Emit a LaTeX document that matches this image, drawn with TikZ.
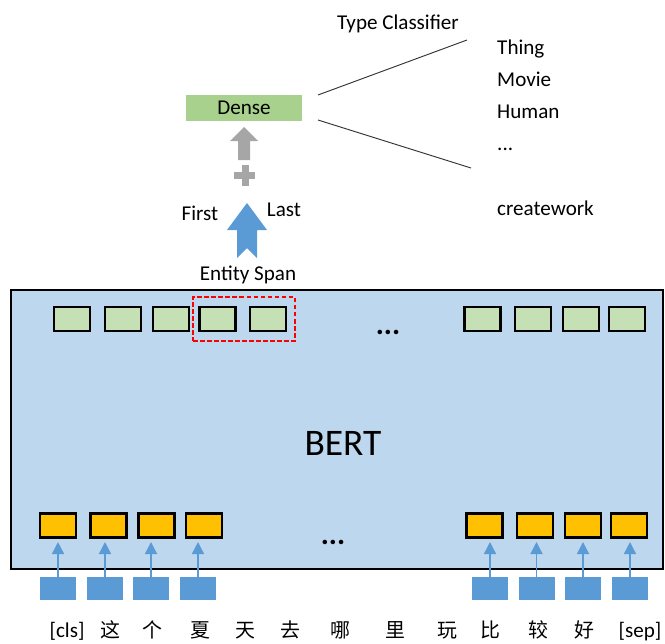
\documentclass[tikz,border=0pt]{standalone}
\usepackage{fontspec}
\setmainfont{Carlito}
\newfontfamily\cjk{Noto Sans CJK SC}
\usetikzlibrary{positioning,arrows.meta}

\definecolor{bertblue}{HTML}{BDD7EE}
\definecolor{tokgreen}{HTML}{C5E0B4}
\definecolor{densegreen}{HTML}{A9D18E}
\definecolor{embyellow}{HTML}{FFC000}
\definecolor{inpblue}{HTML}{5B9BD5}
\definecolor{plusgray}{HTML}{A6A6A6}

\begin{document}
\begin{tikzpicture}[x=0.03cm, y=-0.03cm,
  tok/.style={rectangle, draw, line width=2pt, fill=tokgreen, minimum width=1.08cm, minimum height=0.72cm, inner sep=0pt},
  emb/.style={tok, fill=embyellow},
  inp/.style={rectangle, fill=inpblue, minimum width=1.08cm, minimum height=0.69cm, inner sep=0pt},
  lbl/.style={font=\fontsize{18}{20}\selectfont, inner sep=0pt},
  word/.style={font=\fontsize{18}{20}\selectfont, inner sep=0pt, anchor=base},
  feed/.style={inpblue, line width=1.2pt, -{Triangle[width=3.6mm,length=3.6mm]}, shorten >=1mm},
  dots/.style={font=\fontsize{26}{28}\selectfont\bfseries, inner sep=0pt}
]
  \useasboundingbox (0,0) rectangle (665,644);

  % encoder
  \node[draw, line width=2pt, fill=bertblue, minimum width=19.56cm, minimum height=8.37cm, inner sep=0pt] (bert) at (337,429.5) {};
  \node[font=\fontsize{32}{36}\selectfont] (bertlbl) at (343,443) {BERT};

  % output tokens
  \foreach \i/\x in {1/72,2/123,3/171,4/217.5,5/268,6/482.5,7/533,8/581,9/627}
    \node[tok] (g\i) at (\x,319) {};
  \node[draw=red, dashed, line width=1.5pt, dash pattern=on 4pt off 2pt, minimum width=3.06cm, minimum height=1.32cm] (span) at (244,319) {};
  \node[dots] (gdots) at (388,332) {...};

  % input embeddings
  \foreach \i/\x/\e in {1/58/58,2/108.5/105,3/156.5/151,4/204/198,5/484.5/490,6/535/536.5,7/583/583,8/629/630} {
    \node[emb] (y\i) at (\x,525.5) {};
    \node[inp] (e\i) at (\e,588.5) {};
    \draw[feed] (e\i.north) -- (e\i.north |- y\i.south);
  }
  \node[dots] (ydots) at (333,542) {...};

  % input words
  \node[word] (w1) at (67,637) {[cls]};
  \foreach \i/\x/\c in {2/110/这,3/152/个,4/200/夏,5/245/天,6/290/去,7/340/哪,8/395/里,9/447/玩,10/490/比,11/538/较,12/584/好}
    \node[word, font=\cjk\fontsize{17}{20}\selectfont] (w\i) at (\x,637) {\c};
  \node[word] (w13) at (640,637) {[sep]};

  % span pooling
  \node[lbl] (espan) at (248,275) {Entity Span};
  \fill[inpblue] (247,203) -- (267,230) -- (257,230) -- (257,258) -- (247,248) -- (237,258) -- (237,230) -- (227,230) -- cycle;
  \node[lbl] (first) at (200,213) {First};
  \node[lbl] (last) at (284,210) {Last};
  \fill[plusgray] (241.5,165) rectangle (248.5,186);
  \fill[plusgray] (234,172) rectangle (255,179);
  \fill[plusgray] (244,127) -- (258,141) -- (250,141) -- (250,160) -- (238,160) -- (238,141) -- (230,141) -- cycle;
  \node[fill=densegreen, minimum width=3.48cm, minimum height=0.78cm, inner sep=0pt, lbl] (dense) at (244,108) {Dense};

  % classifier
  \coordinate (c1) at (318,95);
  \coordinate (c2) at (467,40);
  \coordinate (c3) at (318,120);
  \coordinate (c4) at (471,168);
  \draw[black!80, line width=0.8pt] (c1) -- (c2);
  \draw[black!80, line width=0.8pt] (c3) -- (c4);
  \node[lbl] (tcls) at (398,24) {Type Classifier};
  \node[lbl, anchor=base west] (t1) at (497,54) {Thing};
  \node[lbl, anchor=base west] (t2) at (497,86) {Movie};
  \node[lbl, anchor=base west] (t3) at (497,118) {Human};
  \node[lbl, anchor=base west] (t4) at (497,150) {...};
  \node[lbl, anchor=base west] (t5) at (497,215) {creatework};
\end{tikzpicture}
\end{document}
